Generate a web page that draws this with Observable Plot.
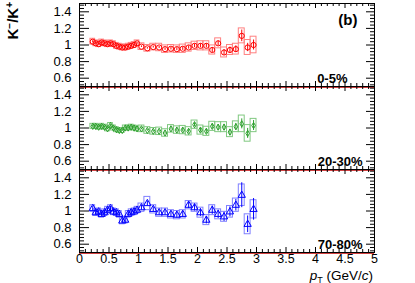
<!DOCTYPE html>
<html><head><meta charset="utf-8">
<script src="https://cdn.jsdelivr.net/npm/d3@7"></script>
<script src="https://cdn.jsdelivr.net/npm/@observablehq/plot@0.6"></script>
<style>html,body{margin:0;padding:0;background:#fff}</style>
</head><body><div id="chart"></div>
<script>
// pT bin edges (GeV/c)
const ptEdges = [0.2,0.25,0.3,0.35,0.4,0.45,0.5,0.55,0.6,0.65,0.7,0.75,0.8,0.85,0.9,0.95,1.0,
  1.1,1.2,1.3,1.4,1.5,1.6,1.7,1.8,1.9,2.0,2.1,2.2,2.3,2.4,2.5,2.6,2.7,2.8,2.9,3.0];

// 0-5% (red circles)
const ratio05 = [1.04,1.02,1.01,1.03,1.02,1.01,1.02,1.01,0.99,0.98,0.97,0.97,0.98,0.99,1.00,1.02,
  0.98,0.96,0.975,0.97,0.95,0.955,0.95,0.955,0.97,0.99,0.99,0.99,0.94,1.02,0.91,0.94,0.95,1.11,0.97,1.00];
const stat05 = [0.01,0.01,0.01,0.01,0.01,0.01,0.01,0.01,0.01,0.01,0.01,0.01,0.01,0.01,0.01,0.01,
  0.01,0.01,0.012,0.012,0.015,0.015,0.018,0.02,0.02,0.022,0.025,0.025,0.03,0.03,0.035,0.035,0.04,0.07,0.05,0.06];
const sys05 = [0.035,0.035,0.035,0.035,0.035,0.035,0.035,0.035,0.035,0.035,0.035,0.035,0.035,0.035,0.035,0.035,
  0.04,0.04,0.04,0.045,0.045,0.045,0.045,0.05,0.05,0.05,0.055,0.055,0.055,0.06,0.06,0.06,0.065,0.09,0.09,0.1];

// 20-30% (green diamonds)
const ratio2030 = [1.02,1.02,1.01,1.02,1.01,0.99,1.03,1.00,0.98,0.97,0.97,1.00,1.00,1.01,1.00,0.99,
  0.99,0.97,0.96,0.96,0.94,0.99,0.975,0.975,0.96,1.04,0.975,0.96,1.02,1.01,1.01,0.95,1.015,1.05,0.935,1.03];
const stat2030 = [0.01,0.01,0.01,0.01,0.01,0.01,0.01,0.01,0.01,0.01,0.01,0.01,0.01,0.01,0.01,0.01,
  0.01,0.01,0.012,0.012,0.015,0.015,0.018,0.02,0.02,0.022,0.025,0.025,0.03,0.03,0.035,0.035,0.04,0.06,0.06,0.06];
const sys2030 = [0.03,0.03,0.03,0.03,0.03,0.03,0.03,0.03,0.03,0.03,0.03,0.03,0.03,0.03,0.03,0.03,
  0.04,0.04,0.04,0.045,0.045,0.045,0.045,0.05,0.05,0.05,0.055,0.055,0.055,0.06,0.06,0.06,0.065,0.1,0.1,0.08];

// 70-80% (blue triangles)
const ratio7080 = [1.03,0.98,0.99,0.96,0.98,1.01,1.03,0.99,0.98,0.96,0.88,0.89,0.96,0.98,0.99,1.01,
  1.04,1.09,1.02,0.98,0.98,0.96,0.95,0.96,1.07,1.04,0.98,0.89,1.01,0.96,0.93,0.99,1.07,1.19,0.84,1.02];
const stat7080 = [0.025,0.025,0.025,0.025,0.025,0.025,0.025,0.025,0.025,0.025,0.025,0.025,0.025,0.025,0.025,0.025,
  0.03,0.03,0.03,0.03,0.03,0.035,0.035,0.035,0.04,0.04,0.045,0.045,0.05,0.05,0.055,0.06,0.07,0.15,0.1,0.13];
const sys7080 = [0.04,0.04,0.04,0.04,0.04,0.04,0.04,0.04,0.04,0.04,0.04,0.04,0.04,0.04,0.04,0.04,
  0.05,0.08,0.05,0.05,0.05,0.05,0.05,0.05,0.05,0.05,0.06,0.06,0.06,0.06,0.06,0.07,0.08,0.13,0.12,0.11];

// axis ticks
const xMajor = [0,0.5,1,1.5,2,2.5,3,3.5,4,4.5,5];
const yMajor = [0.6,0.8,1,1.2,1.4];
const yMinor = [0.52,0.56,0.64,0.68,0.72,0.76,0.84,0.88,0.92,0.96,1.04,1.08,1.12,1.16,1.24,1.28,1.32,1.36,1.44,1.48];
const xMinor = d3.range(0.1, 5, 0.1).map(v => +v.toFixed(1)).filter(v => !xMajor.includes(v));

const centLabels = ["0-5%","20-30%","70-80%"];
const panelIds = ["p1","p2","p3"];

function rows(panel, vals, stat, sys) {
  return vals.map((v, i) => {
    const lo = ptEdges[i], hi = ptEdges[i+1];
    return {panel, pt: (lo+hi)/2, half: Math.max((hi-lo)/2, 0.04), v, stat: stat[i], sys: sys[i]};
  });
}

const W = 415, Hh = 283, mL = 79, mR = 41, mT = 3, mB = 31;
const FW = W - mL - mR, FH = (Hh - mT - mB) / 3;

const panels = [
  {rows: rows("p1", ratio05, stat05, sys05), color: "#ff0000", box: "#ff8080", symbol: "circle", r: 2.6},
  {rows: rows("p2", ratio2030, stat2030, sys2030), color: "#2ca02c", box: "#80c880", symbol: "diamond", r: 1.9},
  {rows: rows("p3", ratio7080, stat7080, sys7080), color: "#0000ff", box: "#8080ff", symbol: "triangle", r: 2.7}
];

const fmt = d => String(d);

const marks = [
  Plot.ruleY([0.5], {stroke: "#d04040", strokeWidth: 1, dy: 1}),
  ...panels.flatMap(p => [
    Plot.rect(p.rows, {x1: d => d.pt - d.half, x2: d => d.pt + d.half, y1: d => d.v - d.sys, y2: d => d.v + d.sys,
      fy: "panel", fill: "none", stroke: p.box, strokeWidth: 1}),
    Plot.ruleX(p.rows, {x: "pt", y1: d => d.v - d.stat, y2: d => d.v + d.stat, fy: "panel", stroke: p.color, strokeWidth: 1}),
    Plot.dot(p.rows, {x: "pt", y: "v", fy: "panel", symbol: p.symbol, r: p.r, stroke: p.color, fill: "none", strokeWidth: 1})
  ]),
  Plot.frame({stroke: "black", strokeWidth: 1}),
  // inward ticks
  Plot.tickY(yMajor, {y: d => d, insetRight: FW - 10, stroke: "black"}),
  Plot.tickY(yMinor, {y: d => d, insetRight: FW - 5, stroke: "black"}),
  Plot.tickY(yMajor, {y: d => d, insetLeft: FW - 8, stroke: "black"}),
  Plot.tickY(yMinor, {y: d => d, insetLeft: FW - 4, stroke: "black"}),
  Plot.tickX(xMajor, {x: d => d, insetTop: FH - 5, stroke: "black"}),
  Plot.tickX(xMinor, {x: d => d, insetTop: FH - 3, stroke: "black"}),
  Plot.tickX(xMajor, {x: d => d, insetBottom: FH - 5, stroke: "black"}),
  Plot.tickX(xMinor, {x: d => d, insetBottom: FH - 3, stroke: "black"}),
  Plot.axisY({ticks: yMajor, tickFormat: fmt, tickSize: 0, tickPadding: 8, fontSize: 13, label: null}),
  Plot.axisX({ticks: xMajor, tickFormat: fmt, tickSize: 0, tickPadding: 2, fontSize: 12.5, label: null}),
  Plot.text(["(b)"], {fy: () => "p1", frameAnchor: "top-right", textAnchor: "end", lineAnchor: "top",
    dx: -17, dy: 11, fontSize: 15, fontWeight: "bold"}),
  Plot.text([centLabels[0]], {fy: () => panelIds[0], frameAnchor: "bottom-right", textAnchor: "end", lineAnchor: "bottom",
    dx: -27, dy: -4, fontSize: 13, fontWeight: "bold"}),
  Plot.text([centLabels[1]], {fy: () => panelIds[1], frameAnchor: "bottom-right", textAnchor: "end", lineAnchor: "bottom",
    dx: -12, dy: -4, fontSize: 13, fontWeight: "bold"}),
  Plot.text([centLabels[2]], {fy: () => panelIds[2], frameAnchor: "bottom-right", textAnchor: "end", lineAnchor: "bottom",
    dx: -12, dy: -4, fontSize: 13, fontWeight: "bold"})
];

const svg = Plot.plot({
  width: W, height: Hh,
  marginLeft: mL, marginRight: mR, marginTop: mT, marginBottom: mB,
  style: {fontFamily: "'Liberation Sans', Arial, Helvetica, sans-serif", color: "black", background: "white"},
  x: {domain: [0, 5]},
  y: {domain: [0.5, 1.5]},
  fy: {domain: panelIds, axis: null, padding: 0},
  marks
});
document.getElementById("chart").appendChild(svg);

const s = d3.select(svg);
// y-axis title K-/K+
const yt = s.append("text")
  .attr("transform", "translate(18,2) rotate(-90)")
  .attr("text-anchor", "end")
  .attr("font-size", 15).attr("font-weight", "bold").attr("fill", "black");
yt.append("tspan").text("K");
yt.append("tspan").attr("dy", -5).attr("font-size", 10).text("\u2212");
yt.append("tspan").attr("dy", 5).text("/K");
yt.append("tspan").attr("dy", -5).attr("font-size", 10).text("+");
// x-axis title pT (GeV/c)
const xt = s.append("text")
  .attr("x", 373).attr("y", 280)
  .attr("text-anchor", "end").attr("font-size", 13.5).attr("fill", "black");
xt.append("tspan").attr("font-style", "italic").text("p");
xt.append("tspan").attr("dy", 2.5).attr("font-size", 9).text("T");
xt.append("tspan").attr("dy", -2.5).text(" (GeV/");
xt.append("tspan").attr("font-style", "italic").text("c");
xt.append("tspan").text(")");
</script></body></html>
